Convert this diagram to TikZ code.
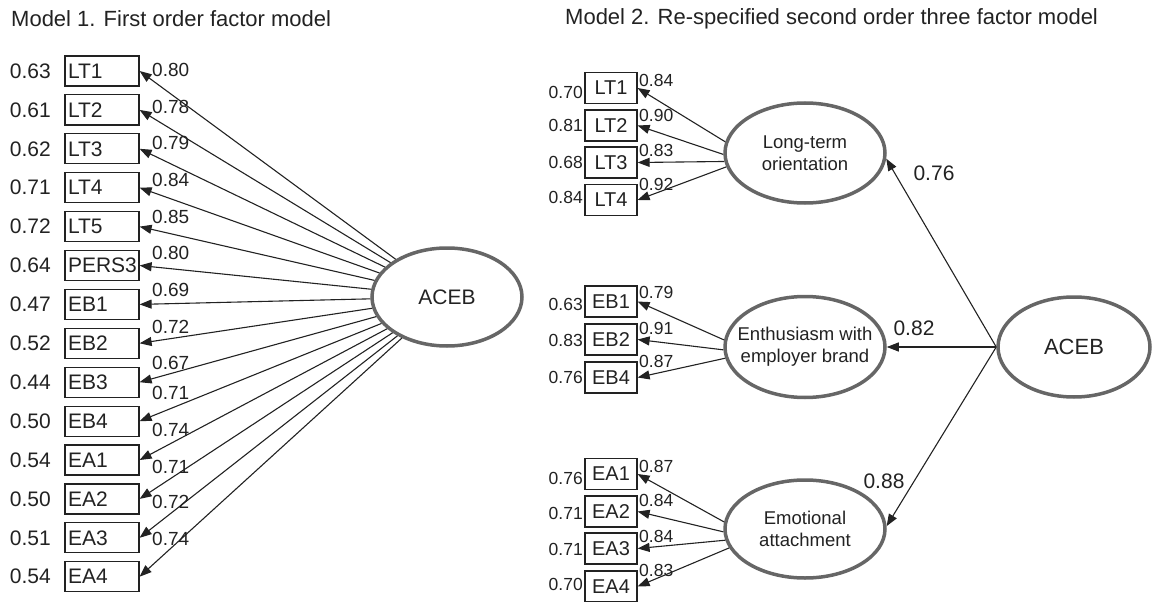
\documentclass[tikz,border=0pt]{standalone}
\usepackage{fontspec}
\setmainfont{Liberation Sans}
\usetikzlibrary{shapes.geometric,arrows.meta}
\definecolor{ink}{HTML}{222222}
\definecolor{ellgray}{HTML}{666666}
\begin{document}
\begin{tikzpicture}[x=1pt,y=-1pt,
  every node/.style={text=ink},
  title/.style={anchor=west, inner sep=0pt, font=\fontsize{22}{26}\selectfont},
  lbox/.style={draw=ink, line width=1.2pt, minimum height=30pt, inner xsep=3pt, inner ysep=0pt, text width=68pt, align=left, font=\fontsize{21}{24}\selectfont},
  lerr/.style={anchor=east, inner sep=0pt, font=\fontsize{21}{24}\selectfont},
  lload/.style={anchor=west, inner sep=0pt, font=\fontsize{19}{22}\selectfont},
  rbox/.style={draw=ink, line width=1.2pt, minimum width=52pt, minimum height=31pt, inner sep=0pt, font=\fontsize{20}{24}\selectfont},
  rerr/.style={anchor=east, inner sep=0pt, font=\fontsize{17.5}{20}\selectfont},
  rload/.style={anchor=west, inner sep=0pt, font=\fontsize{17.5}{20}\selectfont},
  latent/.style={ellipse, draw=ellgray, line width=3.5pt, inner xsep=-20pt, inner ysep=0pt, align=center, font=\fontsize{18.5}{22}\selectfont},
  bigload/.style={inner sep=0pt, font=\fontsize{21}{24}\selectfont},
  arr/.style={draw=ink, line width=1.1pt, -{Triangle[length=12pt,width=9pt]}}
]
\useasboundingbox (0,0) rectangle (1152,602);

% titles
\node[title] (t1) at (11,19) {Model 1. First order factor model};
\node[title] (t2) at (565,19) {Model 2. Re-specified second order three factor model};

% ---------- Model 1 ----------
\node[latent, minimum width=150pt, minimum height=98pt, font=\fontsize{21}{24}\selectfont] (aceba) at (447,297) {ACEB};

\foreach \i/\nm/\e/\l/\ly in {1/LT1/0.63/0.80/70, 2/LT2/0.61/0.78/107, 3/LT3/0.62/0.79/143,
  4/LT4/0.71/0.84/180, 5/LT5/0.72/0.85/217, 6/PERS3/0.64/0.80/253, 7/EB1/0.47/0.69/290,
  8/EB2/0.52/0.72/327, 9/EB3/0.44/0.67/363, 10/EB4/0.50/0.71/393, 11/EA1/0.54/0.74/430,
  12/EA2/0.50/0.71/467, 13/EA3/0.51/0.72/502, 14/EA4/0.54/0.74/539}{
  \pgfmathsetmacro{\yy}{71+38.9*(\i-1)}
  \node[lbox] (m\i) at (102,\yy) {\nm};
  \node[lerr] (me\i) at (51,\yy) {\e};
  \draw[arr] (aceba) -- (m\i.east);
  \node[lload] (ml\i) at (152,\ly) {\l};
}

% ---------- Model 2 ----------
\node[latent, minimum width=160pt, minimum height=100pt] (lto) at (805,153) {Long-term\\orientation};
\node[latent, minimum width=160pt, minimum height=101pt] (enth) at (805,347) {Enthusiasm with\\employer brand};
\node[latent, minimum width=160pt, minimum height=98pt] (emo) at (805,529) {Emotional\\attachment};
\node[latent, minimum width=152pt, minimum height=100pt, font=\fontsize{22}{26}\selectfont] (acebb) at (1074,347) {ACEB};

% Long-term orientation indicators
\foreach \i/\nm/\yy/\e/\ey/\l/\lyy/\ang in {1/LT1/88/0.70/92/0.84/80/172, 2/LT2/125.5/0.81/125/0.90/115/181,
  3/LT3/162.5/0.68/162/0.83/150/186, 4/LT4/200/0.84/197/0.92/184/190}{
  \node[rbox] (ra\i) at (611,\yy) {\nm};
  \node[rerr] (rae\i) at (583,\ey) {\e};
  \draw[arr] (lto.\ang) -- (ra\i.east);
  \node[rload] (ral\i) at (639,\lyy) {\l};
}

% Enthusiasm indicators
\foreach \i/\nm/\yy/\e/\ey/\l/\lyy/\ang in {1/EB1/301.5/0.63/304/0.79/292/175, 2/EB2/339.5/0.83/340.5/0.91/328/182,
  3/EB4/377.5/0.76/377/0.87/361/188}{
  \node[rbox] (rb\i) at (611,\yy) {\nm};
  \node[rerr] (rbe\i) at (583,\ey) {\e};
  \draw[arr] (enth.\ang) -- (rb\i.east);
  \node[rload] (rbl\i) at (639,\lyy) {\l};
}

% Emotional attachment indicators
\foreach \i/\nm/\yy/\e/\ey/\l/\lyy/\ang in {1/EA1/474/0.76/478/0.87/466/175, 2/EA2/511.5/0.71/513/0.84/500/182,
  3/EA3/548.5/0.71/549.5/0.84/536/188, 4/EA4/586.5/0.70/584/0.83/570/194}{
  \node[rbox] (rc\i) at (611,\yy) {\nm};
  \node[rerr] (rce\i) at (583,\ey) {\e};
  \draw[arr] (emo.\ang) -- (rc\i.east);
  \node[rload] (rcl\i) at (639,\lyy) {\l};
}

% second order paths
\draw[arr] (acebb.west) -- (lto.-4);
\draw[arr] (acebb.west) -- (enth.east);
\draw[arr] (acebb.west) -- (emo.2);
\node[bigload] (p1) at (934,173) {0.76};
\node[bigload] (p2) at (914,328) {0.82};
\node[bigload] (p3) at (884,481) {0.88};
\end{tikzpicture}
\end{document}
